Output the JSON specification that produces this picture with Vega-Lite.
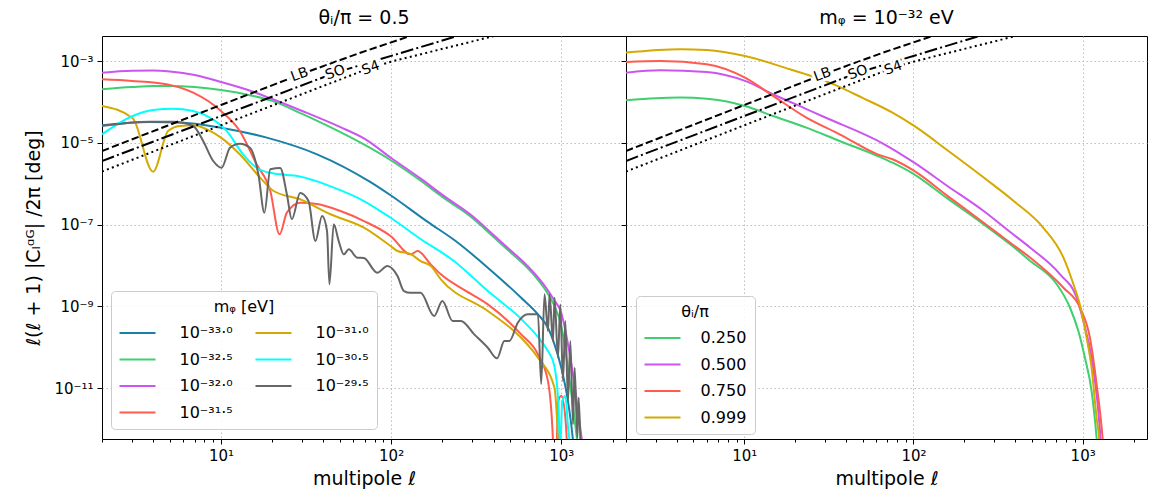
{
  "$schema": "https://vega.github.io/schema/vega-lite/v6.json",
  "padding": {"left": 24, "top": 8, "right": 0, "bottom": 0},
  "config": {
    "font": "DejaVu Sans",
    "view": {"stroke": "#000000", "strokeWidth": 1},
    "axis": {"domain": false, "grid": true, "gridColor": "#b8b8b8", "gridDash": [1.5, 2.5], "gridWidth": 0.9, "tickColor": "#000000", "labelFontSize": 15, "labelColor": "#000000", "titleFontSize": 19, "titleFontWeight": "normal", "titleColor": "#000000", "tickSize": 5, "labelPadding": 4},
    "title": {"fontSize": 19, "fontWeight": "normal", "offset": 8, "color": "#000000"},
    "legend": {"labelFontSize": 16, "titleFontSize": 16, "titleFontWeight": "normal", "labelColor": "#000000", "titleColor": "#000000", "fillColor": "rgba(255,255,255,0.85)", "strokeColor": "#cccccc", "cornerRadius": 4, "padding": 8, "titlePadding": 10, "symbolType": "M-2.77,0H2.77", "symbolSize": 169, "symbolStrokeWidth": 2, "symbolOffset": 10.5, "labelOffset": 34, "rowPadding": 10.5, "titleAnchor": "middle"}
  },
  "datasets": {
    "left": [
      {"s": "10⁻³³·⁰", "l": 2, "c": 2.71e-5}, {"s": "10⁻³³·⁰", "l": 3.81, "c": 3.27e-5}, {"s": "10⁻³³·⁰", "l": 6, "c": 3.14e-5}, {"s": "10⁻³³·⁰", "l": 10, "c": 2.37e-5}, {"s": "10⁻³³·⁰", "l": 18.6, "c": 1.35e-5}, {"s": "10⁻³³·⁰", "l": 36.7, "c": 5.28e-6}, {"s": "10⁻³³·⁰", "l": 75.7, "c": 1.1e-6}, {"s": "10⁻³³·⁰", "l": 99.3, "c": 5.25e-7}, {"s": "10⁻³³·⁰", "l": 164, "c": 1.17e-7}, {"s": "10⁻³³·⁰", "l": 234, "c": 4.27e-8}, {"s": "10⁻³³·⁰", "l": 370, "c": 8.9e-9}, {"s": "10⁻³³·⁰", "l": 581, "c": 1.63e-9}, {"s": "10⁻³³·⁰", "l": 729, "c": 6.41e-10}, {"s": "10⁻³³·⁰", "l": 835, "c": 3.01e-10}, {"s": "10⁻³³·⁰", "l": 912, "c": 1.18e-10}, {"s": "10⁻³³·⁰", "l": 1000, "c": 3.16e-11}, {"s": "10⁻³³·⁰", "l": 1094, "c": 4.84e-12}, {"s": "10⁻³³·⁰", "l": 1172, "c": 5.1e-13}, {"s": "10⁻³³·⁰", "l": 1250, "c": 1e-14},
      {"s": "10⁻³²·⁵", "l": 2, "c": 2.07e-4}, {"s": "10⁻³²·⁵", "l": 3, "c": 2.34e-4}, {"s": "10⁻³²·⁵", "l": 4, "c": 2.48e-4}, {"s": "10⁻³²·⁵", "l": 5, "c": 2.48e-4}, {"s": "10⁻³²·⁵", "l": 7, "c": 2.34e-4}, {"s": "10⁻³²·⁵", "l": 10, "c": 1.98e-4}, {"s": "10⁻³²·⁵", "l": 15, "c": 1.46e-4}, {"s": "10⁻³²·⁵", "l": 20, "c": 1.07e-4}, {"s": "10⁻³²·⁵", "l": 30, "c": 5.13e-5}, {"s": "10⁻³²·⁵", "l": 50, "c": 1.86e-5}, {"s": "10⁻³²·⁵", "l": 70, "c": 8.93e-6}, {"s": "10⁻³²·⁵", "l": 100, "c": 3.73e-6}, {"s": "10⁻³²·⁵", "l": 150, "c": 1.17e-6}, {"s": "10⁻³²·⁵", "l": 200, "c": 4.79e-7}, {"s": "10⁻³²·⁵", "l": 300, "c": 1.46e-7}, {"s": "10⁻³²·⁵", "l": 400, "c": 5.0e-8}, {"s": "10⁻³²·⁵", "l": 500, "c": 2.15e-8}, {"s": "10⁻³²·⁵", "l": 600, "c": 1.09e-8}, {"s": "10⁻³²·⁵", "l": 700, "c": 5.55e-9}, {"s": "10⁻³²·⁵", "l": 800, "c": 2.67e-9}, {"s": "10⁻³²·⁵", "l": 900, "c": 1.15e-9}, {"s": "10⁻³²·⁵", "l": 1000, "c": 3.3e-10}, {"s": "10⁻³²·⁵", "l": 1100, "c": 2.6e-11}, {"s": "10⁻³²·⁵", "l": 1200, "c": 1.58e-12}, {"s": "10⁻³²·⁵", "l": 1300, "c": 1e-13},
      {"s": "10⁻³²·⁰", "l": 2, "c": 5.26e-4}, {"s": "10⁻³²·⁰", "l": 3, "c": 5.85e-4}, {"s": "10⁻³²·⁰", "l": 4, "c": 5.95e-4}, {"s": "10⁻³²·⁰", "l": 5, "c": 5.62e-4}, {"s": "10⁻³²·⁰", "l": 7, "c": 4.62e-4}, {"s": "10⁻³²·⁰", "l": 10, "c": 3.11e-4}, {"s": "10⁻³²·⁰", "l": 15, "c": 1.87e-4}, {"s": "10⁻³²·⁰", "l": 20, "c": 1.19e-4}, {"s": "10⁻³²·⁰", "l": 30, "c": 6.07e-5}, {"s": "10⁻³²·⁰", "l": 50, "c": 2.47e-5}, {"s": "10⁻³²·⁰", "l": 70, "c": 1.26e-5}, {"s": "10⁻³²·⁰", "l": 100, "c": 4.3e-6}, {"s": "10⁻³²·⁰", "l": 150, "c": 1.32e-6}, {"s": "10⁻³²·⁰", "l": 200, "c": 5.37e-7}, {"s": "10⁻³²·⁰", "l": 300, "c": 1.63e-7}, {"s": "10⁻³²·⁰", "l": 400, "c": 5.6e-8}, {"s": "10⁻³²·⁰", "l": 500, "c": 2.4e-8}, {"s": "10⁻³²·⁰", "l": 600, "c": 1.22e-8}, {"s": "10⁻³²·⁰", "l": 700, "c": 6.21e-9}, {"s": "10⁻³²·⁰", "l": 800, "c": 3.16e-9}, {"s": "10⁻³²·⁰", "l": 900, "c": 1.52e-9}, {"s": "10⁻³²·⁰", "l": 1000, "c": 6.9e-10}, {"s": "10⁻³²·⁰", "l": 1100, "c": 1.07e-10}, {"s": "10⁻³²·⁰", "l": 1200, "c": 1.12e-11}, {"s": "10⁻³²·⁰", "l": 1300, "c": 8.9e-13}, {"s": "10⁻³²·⁰", "l": 1400, "c": 9.3e-14},
      {"s": "10⁻³¹·⁵", "l": 2, "c": 3.62e-4}, {"s": "10⁻³¹·⁵", "l": 3, "c": 3.3e-4}, {"s": "10⁻³¹·⁵", "l": 4.78, "c": 2.74e-4}, {"s": "10⁻³¹·⁵", "l": 6.87, "c": 1.7e-4}, {"s": "10⁻³¹·⁵", "l": 10, "c": 6.07e-5}, {"s": "10⁻³¹·⁵", "l": 12.9, "c": 1.97e-5}, {"s": "10⁻³¹·⁵", "l": 16.2, "c": 3.01e-6}, {"s": "10⁻³¹·⁵", "l": 19.5, "c": 6.68e-7}, {"s": "10⁻³¹·⁵", "l": 22.1, "c": 5.82e-8}, {"s": "10⁻³¹·⁵", "l": 24.4, "c": 1.97e-7}, {"s": "10⁻³¹·⁵", "l": 29.2, "c": 3.46e-7}, {"s": "10⁻³¹·⁵", "l": 36.7, "c": 3.21e-7}, {"s": "10⁻³¹·⁵", "l": 50.4, "c": 2.16e-7}, {"s": "10⁻³¹·⁵", "l": 69.2, "c": 1.23e-7}, {"s": "10⁻³¹·⁵", "l": 99.3, "c": 5.28e-8}, {"s": "10⁻³¹·⁵", "l": 130, "c": 1.88e-8}, {"s": "10⁻³¹·⁵", "l": 143, "c": 2.27e-8}, {"s": "10⁻³¹·⁵", "l": 171, "c": 1.07e-8}, {"s": "10⁻³¹·⁵", "l": 196, "c": 6.11e-9}, {"s": "10⁻³¹·⁵", "l": 270, "c": 2.5e-9}, {"s": "10⁻³¹·⁵", "l": 370, "c": 1.12e-9}, {"s": "10⁻³¹·⁵", "l": 581, "c": 2.07e-10}, {"s": "10⁻³¹·⁵", "l": 729, "c": 6.71e-11}, {"s": "10⁻³¹·⁵", "l": 835, "c": 1.49e-11}, {"s": "10⁻³¹·⁵", "l": 894, "c": 5e-13}, {"s": "10⁻³¹·⁵", "l": 915, "c": 1e-14}, {"s": "10⁻³¹·⁵", "l": 960, "c": 4.8e-12}, {"s": "10⁻³¹·⁵", "l": 1000, "c": 6.5e-12}, {"s": "10⁻³¹·⁵", "l": 1060, "c": 1.6e-12}, {"s": "10⁻³¹·⁵", "l": 1100, "c": 1e-13}, {"s": "10⁻³¹·⁵", "l": 1150, "c": 1e-14},
      {"s": "10⁻³¹·⁰", "l": 2, "c": 8.05e-5}, {"s": "10⁻³¹·⁰", "l": 3.03, "c": 4.03e-5}, {"s": "10⁻³¹·⁰", "l": 3.99, "c": 1.98e-6}, {"s": "10⁻³¹·⁰", "l": 4.89, "c": 1.97e-5}, {"s": "10⁻³¹·⁰", "l": 5.73, "c": 2.61e-5}, {"s": "10⁻³¹·⁰", "l": 6.87, "c": 2.71e-5}, {"s": "10⁻³¹·⁰", "l": 8.61, "c": 1.97e-5}, {"s": "10⁻³¹·⁰", "l": 10, "c": 1.35e-5}, {"s": "10⁻³¹·⁰", "l": 12.9, "c": 5.28e-6}, {"s": "10⁻³¹·⁰", "l": 17, "c": 1.42e-6}, {"s": "10⁻³¹·⁰", "l": 20.4, "c": 6.68e-7}, {"s": "10⁻³¹·⁰", "l": 29.2, "c": 4.19e-7}, {"s": "10⁻³¹·⁰", "l": 44, "c": 1.8e-7}, {"s": "10⁻³¹·⁰", "l": 69.2, "c": 8.45e-8}, {"s": "10⁻³¹·⁰", "l": 99.3, "c": 3.01e-8}, {"s": "10⁻³¹·⁰", "l": 109, "c": 2.27e-8}, {"s": "10⁻³¹·⁰", "l": 130, "c": 1.92e-8}, {"s": "10⁻³¹·⁰", "l": 149, "c": 1.29e-8}, {"s": "10⁻³¹·⁰", "l": 171, "c": 9.75e-9}, {"s": "10⁻³¹·⁰", "l": 196, "c": 4.6e-9}, {"s": "10⁻³¹·⁰", "l": 370, "c": 7.71e-10}, {"s": "10⁻³¹·⁰", "l": 581, "c": 1.71e-10}, {"s": "10⁻³¹·⁰", "l": 729, "c": 5.55e-11}, {"s": "10⁻³¹·⁰", "l": 912, "c": 1.02e-11}, {"s": "10⁻³¹·⁰", "l": 960, "c": 5e-13}, {"s": "10⁻³¹·⁰", "l": 1000, "c": 1e-14},
      {"s": "10⁻³⁰·⁵", "l": 2, "c": 1.63e-5}, {"s": "10⁻³⁰·⁵", "l": 3.03, "c": 4.58e-5}, {"s": "10⁻³⁰·⁵", "l": 3.99, "c": 6.43e-5}, {"s": "10⁻³⁰·⁵", "l": 5.23, "c": 6.92e-5}, {"s": "10⁻³⁰·⁵", "l": 6.87, "c": 6.07e-5}, {"s": "10⁻³⁰·⁵", "l": 8.61, "c": 4.16e-5}, {"s": "10⁻³⁰·⁵", "l": 10.8, "c": 1.97e-5}, {"s": "10⁻³⁰·⁵", "l": 13.5, "c": 5.28e-6}, {"s": "10⁻³⁰·⁵", "l": 16.2, "c": 2.48e-6}, {"s": "10⁻³⁰·⁵", "l": 20.4, "c": 1.79e-6}, {"s": "10⁻³⁰·⁵", "l": 24.4, "c": 1.65e-6}, {"s": "10⁻³⁰·⁵", "l": 28, "c": 1.56e-6}, {"s": "10⁻³⁰·⁵", "l": 36.7, "c": 1.15e-6}, {"s": "10⁻³⁰·⁵", "l": 44, "c": 8.7e-7}, {"s": "10⁻³⁰·⁵", "l": 69.2, "c": 3.8e-7}, {"s": "10⁻³⁰·⁵", "l": 99.3, "c": 1.48e-7}, {"s": "10⁻³⁰·⁵", "l": 149, "c": 4.47e-8}, {"s": "10⁻³⁰·⁵", "l": 234, "c": 1.29e-8}, {"s": "10⁻³⁰·⁵", "l": 370, "c": 2.38e-9}, {"s": "10⁻³⁰·⁵", "l": 581, "c": 4.92e-10}, {"s": "10⁻³⁰·⁵", "l": 762, "c": 1.42e-10}, {"s": "10⁻³⁰·⁵", "l": 835, "c": 8.09e-11}, {"s": "10⁻³⁰·⁵", "l": 910, "c": 3.48e-11}, {"s": "10⁻³⁰·⁵", "l": 959, "c": 4.84e-12}, {"s": "10⁻³⁰·⁵", "l": 986, "c": 3.83e-13}, {"s": "10⁻³⁰·⁵", "l": 1014, "c": 4.84e-12}, {"s": "10⁻³⁰·⁵", "l": 1056, "c": 6.41e-12}, {"s": "10⁻³⁰·⁵", "l": 1100, "c": 8.9e-13}, {"s": "10⁻³⁰·⁵", "l": 1130, "c": 3.83e-13}, {"s": "10⁻³⁰·⁵", "l": 1200, "c": 1e-14},
      {"s": "10⁻²⁹·⁵", "l": 2, "c": 2.61e-5}, {"s": "10⁻²⁹·⁵", "l": 3.81, "c": 3.32e-5}, {"s": "10⁻²⁹·⁵", "l": 5.23, "c": 3.32e-5}, {"s": "10⁻²⁹·⁵", "l": 6.87, "c": 2.61e-5}, {"s": "10⁻²⁹·⁵", "l": 7.86, "c": 1.12e-5}, {"s": "10⁻²⁹·⁵", "l": 9.01, "c": 3.62e-6}, {"s": "10⁻²⁹·⁵", "l": 10.1, "c": 2.48e-6}, {"s": "10⁻²⁹·⁵", "l": 11.3, "c": 7.67e-6}, {"s": "10⁻²⁹·⁵", "l": 12.9, "c": 9.61e-6}, {"s": "10⁻²⁹·⁵", "l": 14.8, "c": 7.67e-6}, {"s": "10⁻²⁹·⁵", "l": 16.6, "c": 1.71e-6}, {"s": "10⁻²⁹·⁵", "l": 18, "c": 1.97e-7}, {"s": "10⁻²⁹·⁵", "l": 19.5, "c": 2.27e-6}, {"s": "10⁻²⁹·⁵", "l": 22.3, "c": 2.44e-6}, {"s": "10⁻²⁹·⁵", "l": 24.4, "c": 5.55e-7}, {"s": "10⁻²⁹·⁵", "l": 26.1, "c": 1.36e-7}, {"s": "10⁻²⁹·⁵", "l": 29.2, "c": 5.97e-7}, {"s": "10⁻²⁹·⁵", "l": 32.7, "c": 3.8e-7}, {"s": "10⁻²⁹·⁵", "l": 35.9, "c": 3.99e-8}, {"s": "10⁻²⁹·⁵", "l": 39.3, "c": 1.63e-7}, {"s": "10⁻²⁹·⁵", "l": 42, "c": 7.01e-8}, {"s": "10⁻²⁹·⁵", "l": 43.4, "c": 3.48e-9}, {"s": "10⁻²⁹·⁵", "l": 46, "c": 1.02e-7}, {"s": "10⁻²⁹·⁵", "l": 49.2, "c": 3.99e-8}, {"s": "10⁻²⁹·⁵", "l": 52.7, "c": 1.88e-8}, {"s": "10⁻²⁹·⁵", "l": 56.4, "c": 2.5e-8}, {"s": "10⁻²⁹·⁵", "l": 63.2, "c": 1.56e-8}, {"s": "10⁻²⁹·⁵", "l": 69.1, "c": 1.53e-8}, {"s": "10⁻²⁹·⁵", "l": 82.9, "c": 6.68e-9}, {"s": "10⁻²⁹·⁵", "l": 95, "c": 9.75e-9}, {"s": "10⁻²⁹·⁵", "l": 109, "c": 5.55e-9}, {"s": "10⁻²⁹·⁵", "l": 119, "c": 2.38e-9}, {"s": "10⁻²⁹·⁵", "l": 130, "c": 2.16e-9}, {"s": "10⁻²⁹·⁵", "l": 149, "c": 2.16e-9}, {"s": "10⁻²⁹·⁵", "l": 179, "c": 5.82e-10}, {"s": "10⁻²⁹·⁵", "l": 200, "c": 1.36e-9}, {"s": "10⁻²⁹·⁵", "l": 230, "c": 4.4e-10}, {"s": "10⁻²⁹·⁵", "l": 257, "c": 4.4e-10}, {"s": "10⁻²⁹·⁵", "l": 308, "c": 2.07e-10}, {"s": "10⁻²⁹·⁵", "l": 370, "c": 9.75e-11}, {"s": "10⁻²⁹·⁵", "l": 419, "c": 5.36e-11}, {"s": "10⁻²⁹·⁵", "l": 463, "c": 1.42e-10}, {"s": "10⁻²⁹·⁵", "l": 495, "c": 1.42e-10}, {"s": "10⁻²⁹·⁵", "l": 555, "c": 3.99e-10}, {"s": "10⁻²⁹·⁵", "l": 636, "c": 6.41e-10}, {"s": "10⁻²⁹·⁵", "l": 729, "c": 6.41e-10}, {"s": "10⁻²⁹·⁵", "l": 762, "c": 1.26e-11}, {"s": "10⁻²⁹·⁵", "l": 797, "c": 1.98e-9}, {"s": "10⁻²⁹·⁵", "l": 835, "c": 2.5e-10}, {"s": "10⁻²⁹·⁵", "l": 853, "c": 1.98e-9}, {"s": "10⁻²⁹·⁵", "l": 893, "c": 1.42e-10}, {"s": "10⁻²⁹·⁵", "l": 913, "c": 1.63e-9}, {"s": "10⁻²⁹·⁵", "l": 956, "c": 5.55e-11}, {"s": "10⁻²⁹·⁵", "l": 987, "c": 1.12e-9}, {"s": "10⁻²⁹·⁵", "l": 1023, "c": 1.49e-11}, {"s": "10⁻²⁹·⁵", "l": 1056, "c": 4.4e-10}, {"s": "10⁻²⁹·⁵", "l": 1095, "c": 4.84e-12}, {"s": "10⁻²⁹·⁵", "l": 1130, "c": 1.42e-10}, {"s": "10⁻²⁹·⁵", "l": 1172, "c": 1.3e-12}, {"s": "10⁻²⁹·⁵", "l": 1198, "c": 3.16e-11}, {"s": "10⁻²⁹·⁵", "l": 1243, "c": 6.11e-13}, {"s": "10⁻²⁹·⁵", "l": 1265, "c": 5.82e-12}, {"s": "10⁻²⁹·⁵", "l": 1312, "c": 1e-13}, {"s": "10⁻²⁹·⁵", "l": 1400, "c": 1e-14}
    ],
    "right": [
      {"s": "0.250", "l": 2, "c": 1.11e-4}, {"s": "0.250", "l": 3, "c": 1.25e-4}, {"s": "0.250", "l": 4.19, "c": 1.29e-4}, {"s": "0.250", "l": 6, "c": 1.21e-4}, {"s": "0.250", "l": 10.1, "c": 8.05e-5}, {"s": "0.250", "l": 14.8, "c": 4.58e-5}, {"s": "0.250", "l": 23.3, "c": 2.37e-5}, {"s": "0.250", "l": 36.6, "c": 1.12e-5}, {"s": "0.250", "l": 61.4, "c": 4.81e-6}, {"s": "0.250", "l": 75.2, "c": 3.3e-6}, {"s": "0.250", "l": 101, "c": 1.71e-6}, {"s": "0.250", "l": 158, "c": 4.47e-7}, {"s": "0.250", "l": 260, "c": 1.02e-7}, {"s": "0.250", "l": 373, "c": 3.31e-8}, {"s": "0.250", "l": 490, "c": 1.29e-8}, {"s": "0.250", "l": 703, "c": 3.48e-9}, {"s": "0.250", "l": 842, "c": 9.29e-10}, {"s": "0.250", "l": 943, "c": 2.5e-10}, {"s": "0.250", "l": 1031, "c": 5.55e-11}, {"s": "0.250", "l": 1129, "c": 8.49e-12}, {"s": "0.250", "l": 1209, "c": 6.11e-13}, {"s": "0.250", "l": 1300, "c": 1e-14},
      {"s": "0.500", "l": 2, "c": 5.26e-4}, {"s": "0.500", "l": 3.19, "c": 6.03e-4}, {"s": "0.500", "l": 6, "c": 5.47e-4}, {"s": "0.500", "l": 10.1, "c": 3.3e-4}, {"s": "0.500", "l": 14.8, "c": 1.56e-4}, {"s": "0.500", "l": 23.3, "c": 6.76e-5}, {"s": "0.500", "l": 29.9, "c": 4.27e-5}, {"s": "0.500", "l": 67.3, "c": 9.29e-6}, {"s": "0.500", "l": 101, "c": 3.3e-6}, {"s": "0.500", "l": 158, "c": 9.0e-7}, {"s": "0.500", "l": 260, "c": 2.16e-7}, {"s": "0.500", "l": 373, "c": 6.6e-8}, {"s": "0.500", "l": 490, "c": 2.74e-8}, {"s": "0.500", "l": 735, "c": 6.11e-9}, {"s": "0.500", "l": 922, "c": 1.63e-9}, {"s": "0.500", "l": 1009, "c": 4.4e-10}, {"s": "0.500", "l": 1129, "c": 5.55e-11}, {"s": "0.500", "l": 1237, "c": 2.75e-12}, {"s": "0.500", "l": 1276, "c": 5.6e-13}, {"s": "0.500", "l": 1350, "c": 1e-14},
      {"s": "0.750", "l": 2, "c": 9.6e-4}, {"s": "0.750", "l": 3.19, "c": 1.02e-3}, {"s": "0.750", "l": 6, "c": 8.45e-4}, {"s": "0.750", "l": 10.1, "c": 3.97e-4}, {"s": "0.750", "l": 14.8, "c": 1.42e-4}, {"s": "0.750", "l": 23.3, "c": 4.16e-5}, {"s": "0.750", "l": 36.6, "c": 1.63e-5}, {"s": "0.750", "l": 61.4, "c": 5.28e-6}, {"s": "0.750", "l": 75.2, "c": 3.99e-6}, {"s": "0.750", "l": 101, "c": 2.07e-6}, {"s": "0.750", "l": 158, "c": 5.15e-7}, {"s": "0.750", "l": 260, "c": 1.12e-7}, {"s": "0.750", "l": 373, "c": 3.63e-8}, {"s": "0.750", "l": 490, "c": 1.56e-8}, {"s": "0.750", "l": 770, "c": 2.87e-9}, {"s": "0.750", "l": 964, "c": 9.29e-10}, {"s": "0.750", "l": 1104, "c": 1.71e-10}, {"s": "0.750", "l": 1209, "c": 1.24e-11}, {"s": "0.750", "l": 1311, "c": 6.11e-13}, {"s": "0.750", "l": 1400, "c": 1e-14},
      {"s": "0.999", "l": 2, "c": 1.63e-3}, {"s": "0.999", "l": 4.19, "c": 1.97e-3}, {"s": "0.999", "l": 6, "c": 1.89e-3}, {"s": "0.999", "l": 10.1, "c": 1.35e-3}, {"s": "0.999", "l": 18.6, "c": 6.37e-4}, {"s": "0.999", "l": 24.9, "c": 4.36e-4}, {"s": "0.999", "l": 31.9, "c": 2.99e-4}, {"s": "0.999", "l": 50, "c": 1.27e-4}, {"s": "0.999", "l": 75.2, "c": 5.52e-5}, {"s": "0.999", "l": 101, "c": 2.61e-5}, {"s": "0.999", "l": 158, "c": 6.75e-6}, {"s": "0.999", "l": 272, "c": 1.24e-6}, {"s": "0.999", "l": 391, "c": 3.8e-7}, {"s": "0.999", "l": 587, "c": 8.3e-8}, {"s": "0.999", "l": 770, "c": 1.56e-8}, {"s": "0.999", "l": 882, "c": 3.48e-9}, {"s": "0.999", "l": 973, "c": 9.29e-10}, {"s": "0.999", "l": 1055, "c": 1.71e-10}, {"s": "0.999", "l": 1129, "c": 3.16e-11}, {"s": "0.999", "l": 1209, "c": 1.88e-12}, {"s": "0.999", "l": 1254, "c": 5.6e-13}, {"s": "0.999", "l": 1320, "c": 1e-14}
    ],
    "noise": [
      {"n": "LB", "l": 2, "c": 6.37e-6}, {"n": "LB", "l": 4.8, "c": 2.61e-5}, {"n": "LB", "l": 10, "c": 8.5e-5}, {"n": "LB", "l": 29, "c": 4.68e-4}, {"n": "LB", "l": 66, "c": 1.62e-3}, {"n": "LB", "l": 130, "c": 4.17e-3}, {"n": "LB", "l": 300, "c": 1.24e-2},
      {"n": "SO", "l": 2, "c": 3.63e-6}, {"n": "SO", "l": 10, "c": 4.57e-5}, {"n": "SO", "l": 47, "c": 5.25e-4}, {"n": "SO", "l": 246, "c": 4.17e-3}, {"n": "SO", "l": 600, "c": 1.3e-2},
      {"n": "S4", "l": 2, "c": 2.0e-6}, {"n": "S4", "l": 10, "c": 2.71e-5}, {"n": "S4", "l": 76, "c": 6.97e-4}, {"n": "S4", "l": 104, "c": 1.02e-3}, {"n": "S4", "l": 405, "c": 4.17e-3}, {"n": "S4", "l": 1000, "c": 1.0e-2}
    ],
    "labels": [
      {"n": "LB", "l": 29, "c": 4.68e-4}, {"n": "SO", "l": 47, "c": 5.25e-4}, {"n": "S4", "l": 76, "c": 6.8e-4}
    ]
  },
  "hconcat": [
    {
      "width": 524, "height": 403,
      "title": {"text": "θᵢ/π = 0.5"},
      "encoding": {
        "x": {"field": "l", "type": "quantitative", "scale": {"type": "log", "domain": [2, 2400]},
          "axis": {"title": "multipole ℓ", "values": [2,3,4,5,6,7,8,9,10,20,30,40,50,60,70,80,90,100,200,300,400,500,600,700,800,900,1000,2000],
            "labelExpr": "datum.value == 10 ? '10¹' : datum.value == 100 ? '10²' : datum.value == 1000 ? '10³' : ''",
            "tickSize": {"condition": {"test": "datum.value == 10 || datum.value == 100 || datum.value == 1000", "value": 5}, "value": 3},
            "gridOpacity": {"condition": {"test": "datum.value == 10 || datum.value == 100 || datum.value == 1000", "value": 1}, "value": 0},
            "labelFlush": false, "labelOverlap": false, "titlePadding": 6}},
        "y": {"field": "c", "type": "quantitative", "scale": {"type": "log", "domain": [5.7e-13, 4.15e-3]},
          "axis": {"title": "ℓ(ℓ + 1) |Cₗᵅᴳ| /2π [deg]", "values": [1e-3, 1e-5, 1e-7, 1e-9, 1e-11],
            "labelExpr": "'10' + (datum.value > 5e-4 ? '⁻³' : datum.value > 5e-6 ? '⁻⁵' : datum.value > 5e-8 ? '⁻⁷' : datum.value > 5e-10 ? '⁻⁹' : '⁻¹¹')",
            "titlePadding": 10, "labelFlush": false, "labelOverlap": false}}
      },
      "layer": [
        {"data": {"name": "left"}, "mark": {"type": "line", "clip": true, "strokeWidth": 2, "interpolate": "monotone"},
          "encoding": {"color": {"field": "s", "type": "nominal",
            "scale": {"domain": ["10⁻³³·⁰", "10⁻³²·⁵", "10⁻³²·⁰", "10⁻³¹·⁵", "10⁻³¹·⁰", "10⁻³⁰·⁵", "10⁻²⁹·⁵"],
              "range": ["#1a80a8", "#3fcf6f", "#cc55f0", "#ff5b4f", "#d4aa00", "#00ffff", "#666666"]},
            "legend": {"title": "mᵩ [eV]", "orient": "none", "legendX": 9, "legendY": 255, "columns": 2, "columnPadding": 18}}}},
        {"data": {"name": "noise"}, "mark": {"type": "line", "clip": true, "strokeWidth": 2, "color": "#000000"},
          "encoding": {"strokeDash": {"field": "n", "type": "nominal", "scale": {"domain": ["LB", "SO", "S4"], "range": [[7.4, 3.2], [12.8, 3.2, 2, 3.2], [2, 3.3]]}, "legend": null}}},
        {"data": {"name": "labels"}, "mark": {"type": "text", "fontSize": 14, "angle": -20, "fill": "#ffffff", "stroke": "#ffffff", "strokeWidth": 6, "strokeJoin": "round"},
          "encoding": {"text": {"field": "n"}}},
        {"data": {"name": "labels"}, "mark": {"type": "text", "fontSize": 14, "angle": -20, "color": "#000000"},
          "encoding": {"text": {"field": "n"}}}
      ]
    },
    {
      "width": 521, "height": 403,
      "title": {"text": "mᵩ = 10⁻³² eV"},
      "encoding": {
        "x": {"field": "l", "type": "quantitative", "scale": {"type": "log", "domain": [2, 2400]},
          "axis": {"title": "multipole ℓ", "values": [2,3,4,5,6,7,8,9,10,20,30,40,50,60,70,80,90,100,200,300,400,500,600,700,800,900,1000,2000],
            "labelExpr": "datum.value == 10 ? '10¹' : datum.value == 100 ? '10²' : datum.value == 1000 ? '10³' : ''",
            "tickSize": {"condition": {"test": "datum.value == 10 || datum.value == 100 || datum.value == 1000", "value": 5}, "value": 3},
            "gridOpacity": {"condition": {"test": "datum.value == 10 || datum.value == 100 || datum.value == 1000", "value": 1}, "value": 0},
            "labelFlush": false, "labelOverlap": false, "titlePadding": 6}},
        "y": {"field": "c", "type": "quantitative", "scale": {"type": "log", "domain": [5.7e-13, 4.15e-3]},
          "axis": {"title": null, "labels": false, "values": [1e-3, 1e-5, 1e-7, 1e-9, 1e-11]}}
      },
      "layer": [
        {"data": {"name": "right"}, "mark": {"type": "line", "clip": true, "strokeWidth": 2, "interpolate": "monotone"},
          "encoding": {"color": {"field": "s", "type": "nominal",
            "scale": {"domain": ["0.250", "0.500", "0.750", "0.999"], "range": ["#3fcf6f", "#cc55f0", "#ff5b4f", "#d4aa00"]},
            "legend": {"title": "θᵢ/π", "orient": "none", "legendX": 10, "legendY": 260, "labelOffset": 30}}}},
        {"data": {"name": "noise"}, "mark": {"type": "line", "clip": true, "strokeWidth": 2, "color": "#000000"},
          "encoding": {"strokeDash": {"field": "n", "type": "nominal", "scale": {"domain": ["LB", "SO", "S4"], "range": [[7.4, 3.2], [12.8, 3.2, 2, 3.2], [2, 3.3]]}, "legend": null}}},
        {"data": {"name": "labels"}, "mark": {"type": "text", "fontSize": 14, "angle": -20, "fill": "#ffffff", "stroke": "#ffffff", "strokeWidth": 6, "strokeJoin": "round"},
          "encoding": {"text": {"field": "n"}}},
        {"data": {"name": "labels"}, "mark": {"type": "text", "fontSize": 14, "angle": -20, "color": "#000000"},
          "encoding": {"text": {"field": "n"}}}
      ]
    }
  ],
  "spacing": 0,
  "bounds": "flush",
  "resolve": {"scale": {"color": "independent"}}
}
